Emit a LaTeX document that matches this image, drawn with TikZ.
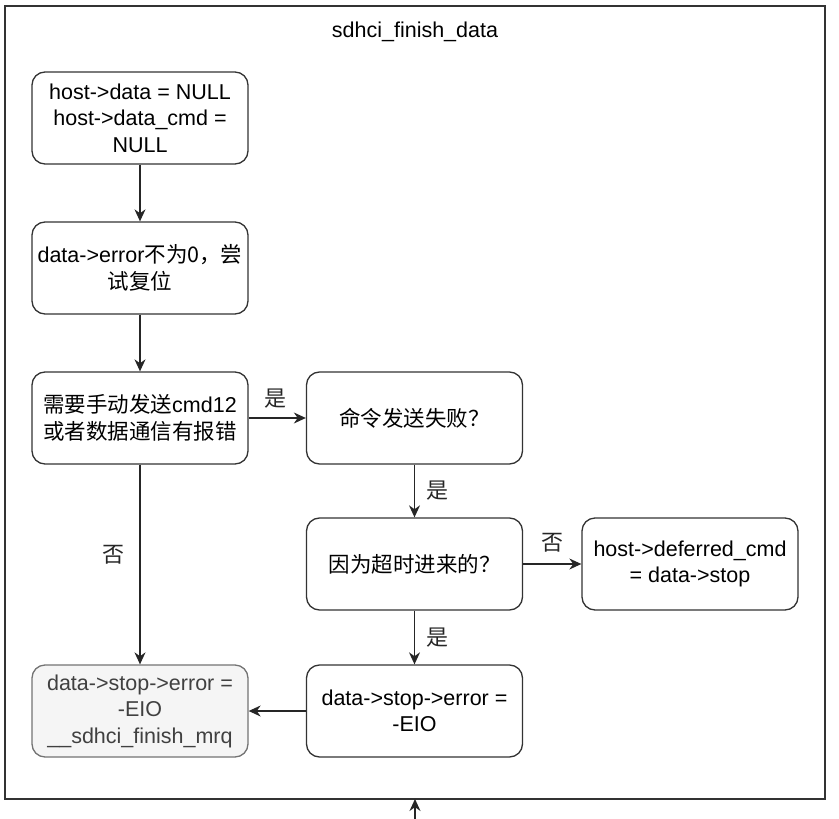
\documentclass[tikz,border=0pt]{standalone}
\usepackage{fontspec}
\setmainfont{Liberation Sans}
\newfontfamily\cjk{Noto Sans CJK SC}
\usetikzlibrary{arrows.meta}

\tikzset{
  box/.style={draw=black!80, line width=1.3pt, rounded corners=13pt, minimum width=216pt, minimum height=92pt, align=center, inner sep=0pt, font=\fontsize{21.5}{26.5}\selectfont},
  endbox/.style={box, draw=black!55, fill=black!4, text=black!75},
  arr/.style={-{Stealth[length=12pt,width=11pt]}, line width=1.3pt, black!85},
  lbl/.style={font=\cjk\fontsize{22}{26}\selectfont}
}

\begin{document}
\begin{tikzpicture}[x=1pt, y=-1pt]
\useasboundingbox (0,0) rectangle (839,819);
\draw[black!80, line width=1.6pt] (5,6) rectangle (825,799);
\node[font=\fontsize{21.5}{26.5}\selectfont] (title) at (415,32) {sdhci\_finish\_data};

\node[box] (clear) at (140,118) {host->data = NULL\\host->data\_cmd =\\NULL};
\node[box] (reset) at (140,268) {data->error{\cjk 不为0，尝}\\{\cjk 试复位}};
\node[box] (needstop) at (140,418) {{\cjk 需要手动发送}cmd12\\{\cjk 或者数据通信有报错}};
\node[box] (cmdfail) at (414.5,418) {{\cjk 命令发送失败？}};
\node[box] (timeout) at (414.5,564) {{\cjk 因为超时进来的？}};
\node[box] (defer) at (690,564) {host->deferred\_cmd\\= data->stop};
\node[box] (seteio) at (414.5,711) {data->stop->error =\\-EIO};
\node[endbox] (finish) at (140,711) {data->stop->error =\\-EIO\\\_\_sdhci\_finish\_mrq};

\coordinate (entry) at (415,819);
\coordinate (framebot) at (415,799);

\draw[arr] (clear) -- (reset);
\draw[arr] (reset) -- (needstop);
\draw[arr] (needstop) -- (cmdfail) node[lbl, midway, above=6pt, xshift=-2pt]{是};
\draw[arr] (cmdfail) -- (timeout) node[lbl, midway, right=8pt]{是};
\draw[arr] (timeout) -- (defer) node[lbl, midway, above=8pt]{否};
\draw[arr] (timeout) -- (seteio) node[lbl, midway, right=8pt]{是};
\draw[arr] (needstop) -- (finish) node[lbl, pos=0.45, left=12pt]{否};
\draw[arr] (seteio) -- (finish);
\draw[arr] (entry) -- (framebot);
\end{tikzpicture}
\end{document}
